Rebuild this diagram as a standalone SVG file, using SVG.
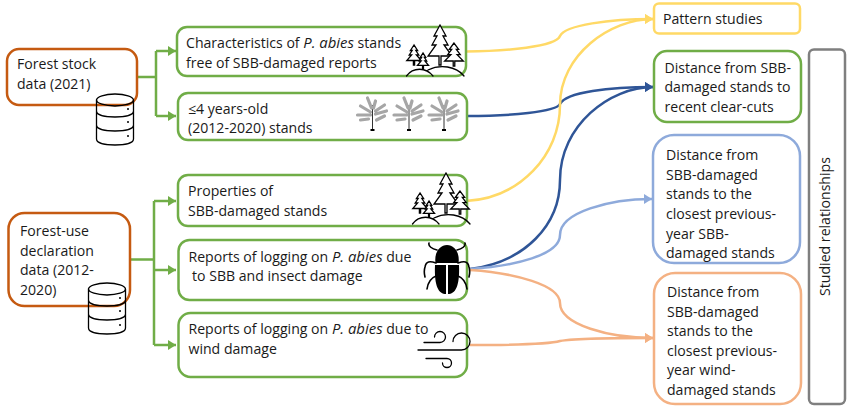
<svg xmlns="http://www.w3.org/2000/svg" width="850" height="411" viewBox="0 0 850 411">
<style>
text{font-family:"Open Sans","Noto Sans","Liberation Sans",sans-serif;font-size:14.1px;fill:#1a1a1a}
tspan{font-style:italic;font-size:14.9px}
.b{fill:#fff;stroke-width:2.5}
.g{stroke:#70ad47}.o{stroke:#c55a11}.y{stroke:#ffd966}.lb{stroke:#8eaadb}.p{stroke:#f4b183}.d{stroke:#2f5597}
.c{fill:none;stroke-width:2.5}
.i{fill:none;stroke:#000;stroke-width:1.3;stroke-linejoin:round;stroke-linecap:round}
.t{fill:#fff;stroke:#000;stroke-width:1.3;stroke-linejoin:miter}
#tr{vector-effect:non-scaling-stroke}
.br{fill:none;stroke:#a6a6a6;stroke-width:3.2;stroke-linecap:round}
.leg{fill:none;stroke:#000;stroke-width:1.6;stroke-linecap:round}
</style>
<defs>
<marker id="ag" markerUnits="userSpaceOnUse" markerWidth="9" markerHeight="10" refX="8" refY="5" orient="auto"><path d="M0,0L8,5L0,10z" fill="#70ad47"/></marker>
<marker id="ay" markerUnits="userSpaceOnUse" markerWidth="9" markerHeight="10" refX="8" refY="5" orient="auto"><path d="M0,0L8,5L0,10z" fill="#ffd966"/></marker>
<marker id="ad" markerUnits="userSpaceOnUse" markerWidth="9" markerHeight="10" refX="8" refY="5" orient="auto"><path d="M0,0L8,5L0,10z" fill="#2f5597"/></marker>
<marker id="al" markerUnits="userSpaceOnUse" markerWidth="9" markerHeight="10" refX="8" refY="5" orient="auto"><path d="M0,0L8,5L0,10z" fill="#8eaadb"/></marker>
<marker id="ap" markerUnits="userSpaceOnUse" markerWidth="9" markerHeight="10" refX="8" refY="5" orient="auto"><path d="M0,0L8,5L0,10z" fill="#f4b183"/></marker>
<g id="db" class="i">
<ellipse cx="115" cy="100" rx="18.5" ry="6"/>
<path d="M96.500,100V139C96.500,143 105,145 115,145S133.500,143 133.500,139V100M96.500,111C96.500,115 105,117 115,117S133.500,115 133.500,111M96.500,125C96.500,129 105,131 115,131S133.500,129 133.500,125"/>
<circle cx="128" cy="109" r="1" fill="#000" stroke="none"/><circle cx="128" cy="122" r="1" fill="#000" stroke="none"/><circle cx="128" cy="136" r="1" fill="#000" stroke="none"/>
</g>
<path id="tr" d="M0,0L-6,11H-3L-8,20H-4L-12,31H-1V40H1V31H12L4,20H8L3,11H6Z"/>
<g id="trees">
<use href="#tr" class="t" transform="translate(440,25)"/>
<use href="#tr" class="t" transform="translate(414,45) scale(.6,.5)"/>
<use href="#tr" class="t" transform="translate(454,43) scale(.78,.58)"/>
<use href="#tr" class="t" transform="translate(423,53) scale(.46,.4)"/>
<path class="i" d="M406.500,76C413,67 426,67 433,76M428,70C440,64 456,66 464,76"/>
</g>
<g id="pine">
<path d="M0,-8V17" stroke="#333" stroke-width="1" fill="none"/><path d="M-2,17H2" stroke="#000" stroke-width="2"/>
<path class="br" d="M-1,-5L-5,-15M1,-5L3,-12M-2,-1L-12,-7M-2,2L-15,2M3,-2L12,-8M3,1L14,-2M4,7L12,3M-4,6L-12,7"/>
</g>
</defs>

<g id="connectors">
<path class="c g" d="M137,77H156M156,51V116"/>
<path class="c g" d="M156,51H176" marker-end="url(#ag)"/>
<path class="c g" d="M156,116H176" marker-end="url(#ag)"/>
<path class="c g" d="M130,259.500H154M154,201V345"/>
<path class="c g" d="M154,201H176" marker-end="url(#ag)"/>
<path class="c g" d="M154,270H176" marker-end="url(#ag)"/>
<path class="c g" d="M154,345H176" marker-end="url(#ag)"/>
<path class="c d" d="M467,116C510,116 556,112 560,104C566,92 610,87 653,87" marker-end="url(#ad)"/>
<path class="c d" d="M470,269C525,262 560,225 560,180C560,125 610,87 653,87" marker-end="url(#ad)"/>
<path class="c lb" d="M470,269C515,266 560,255 560,235C560,212 610,199 652,199" marker-end="url(#al)"/>
<path class="c p" d="M470,270C515,273 560,285 560,303C560,325 610,338 653,338" marker-end="url(#ap)"/>
<path class="c p" d="M470,345C510,345 550,344 560,341C575,338 610,338 653,338" marker-end="url(#ap)"/>
<path class="c y" d="M466,51.500C505,51 556,47 560,36C565,25 610,19 653,19" marker-end="url(#ay)"/>
<path class="c y" d="M466,201C520,198 560,155 560,105C560,55 610,19 653,19" marker-end="url(#ay)"/>
</g>

<g id="n-stock"><rect class="b o" x="7" y="49" width="130" height="56" rx="12"/>
<text x="17" y="69">Forest stock</text><text x="17" y="89">data (2021)</text><use href="#db"/></g>
<g id="n-use"><rect class="b o" x="8.500" y="213" width="121.500" height="93" rx="16"/>
<text x="20" y="236">Forest-use</text><text x="20" y="256">declaration</text><text x="20" y="275">data (2012-</text><text x="20" y="295">2020)</text><use href="#db" transform="translate(-8,189)"/></g>

<g id="n-char"><rect class="b g" x="177" y="27" width="289" height="49" rx="10"/>
<text x="186" y="48">Characteristics of <tspan>P. abies</tspan> stands</text><text x="186" y="67.500">free of SBB-damaged reports</text><use href="#trees"/></g>
<g id="n-young"><rect class="b g" x="178" y="93" width="289" height="47" rx="10"/>
<text x="188" y="114">≤4 years-old</text><text x="188" y="133">(2012-2020) stands</text>
<use href="#pine" transform="translate(372.500,113)"/><use href="#pine" transform="translate(409,113)"/><use href="#pine" transform="translate(444,113)"/></g>
<g id="n-prop"><rect class="b g" x="178" y="175" width="289" height="51" rx="10"/>
<text x="188" y="196">Properties of</text><text x="188" y="216">SBB-damaged stands</text><use href="#trees" transform="translate(6,148)"/></g>
<g id="n-sbb"><rect class="b g" x="178.500" y="240" width="288.500" height="60" rx="11"/>
<text x="188.500" y="262">Reports of logging on <tspan>P. abies</tspan> due</text><text x="192" y="281"> to SBB and insect damage</text>
<path d="M435.500,263C434,252 440,245 447,245C454,245 460,252 458.500,263Z" fill="#000"/>
<path d="M435,265H446V294C439,294 434,287 435,265ZM448,265H459C460,287 455,294 448,294Z" fill="#000"/>
<path class="leg" d="M437,250C432,249 428,246 429,243M457,250C462,249 466,246 465,243M436,263C430,261 426,261 425,267C424,270 424,273 425,277M458,263C464,261 468,261 469,267C470,270 470,273 469,277M436,276C431,278 428,282 427,289M458,276C463,278 466,282 467,289"/>
</g>
<g id="n-wind"><rect class="b g" x="178.500" y="313" width="288.500" height="64" rx="12"/>
<text x="188.500" y="334">Reports of logging on <tspan>P. abies</tspan> due to</text><text x="188.500" y="354">wind damage</text>
<path class="i" d="M424,342.500H440A5.500,5.500 0 1 0 434.500,337M418,350H461.500A8.500,8.500 0 1 0 453,341.500M426,358.500H447A4.500,4.500 0 1 1 442.500,363"/></g>

<g id="n-pattern"><rect class="b y" x="654" y="3.500" width="146" height="30" rx="5"/><text x="663" y="24">Pattern studies</text></g>
<g id="n-clear"><rect class="b g" x="654" y="51" width="147" height="71" rx="13"/>
<text x="664.500" y="73">Distance from SBB-</text><text x="664.500" y="92">damaged stands to</text><text x="664.500" y="112">recent clear-cuts</text></g>
<g id="n-prev"><rect class="b lb" x="653" y="135" width="147" height="128" rx="21"/>
<text x="666" y="160">Distance from</text><text x="666" y="179.500">SBB-damaged</text><text x="666" y="199">stands to the</text><text x="666" y="219">closest previous-</text><text x="666" y="238.500">year SBB-</text><text x="666" y="258">damaged stands</text></g>
<g id="n-windprev"><rect class="b p" x="654" y="273" width="147" height="131" rx="21"/>
<text x="667" y="297">Distance from</text><text x="667" y="317">SBB-damaged</text><text x="667" y="336">stands to the</text><text x="667" y="356">closest previous-</text><text x="667" y="375">year wind-</text><text x="667" y="395">damaged stands</text></g>
<g id="n-studied"><rect x="809" y="49.500" width="36" height="354.500" rx="5" fill="#fff" stroke="#7f7f7f" stroke-width="2.500"/>
<text transform="translate(830,226.500) rotate(-90)" text-anchor="middle">Studied relationships</text></g>
</svg>
